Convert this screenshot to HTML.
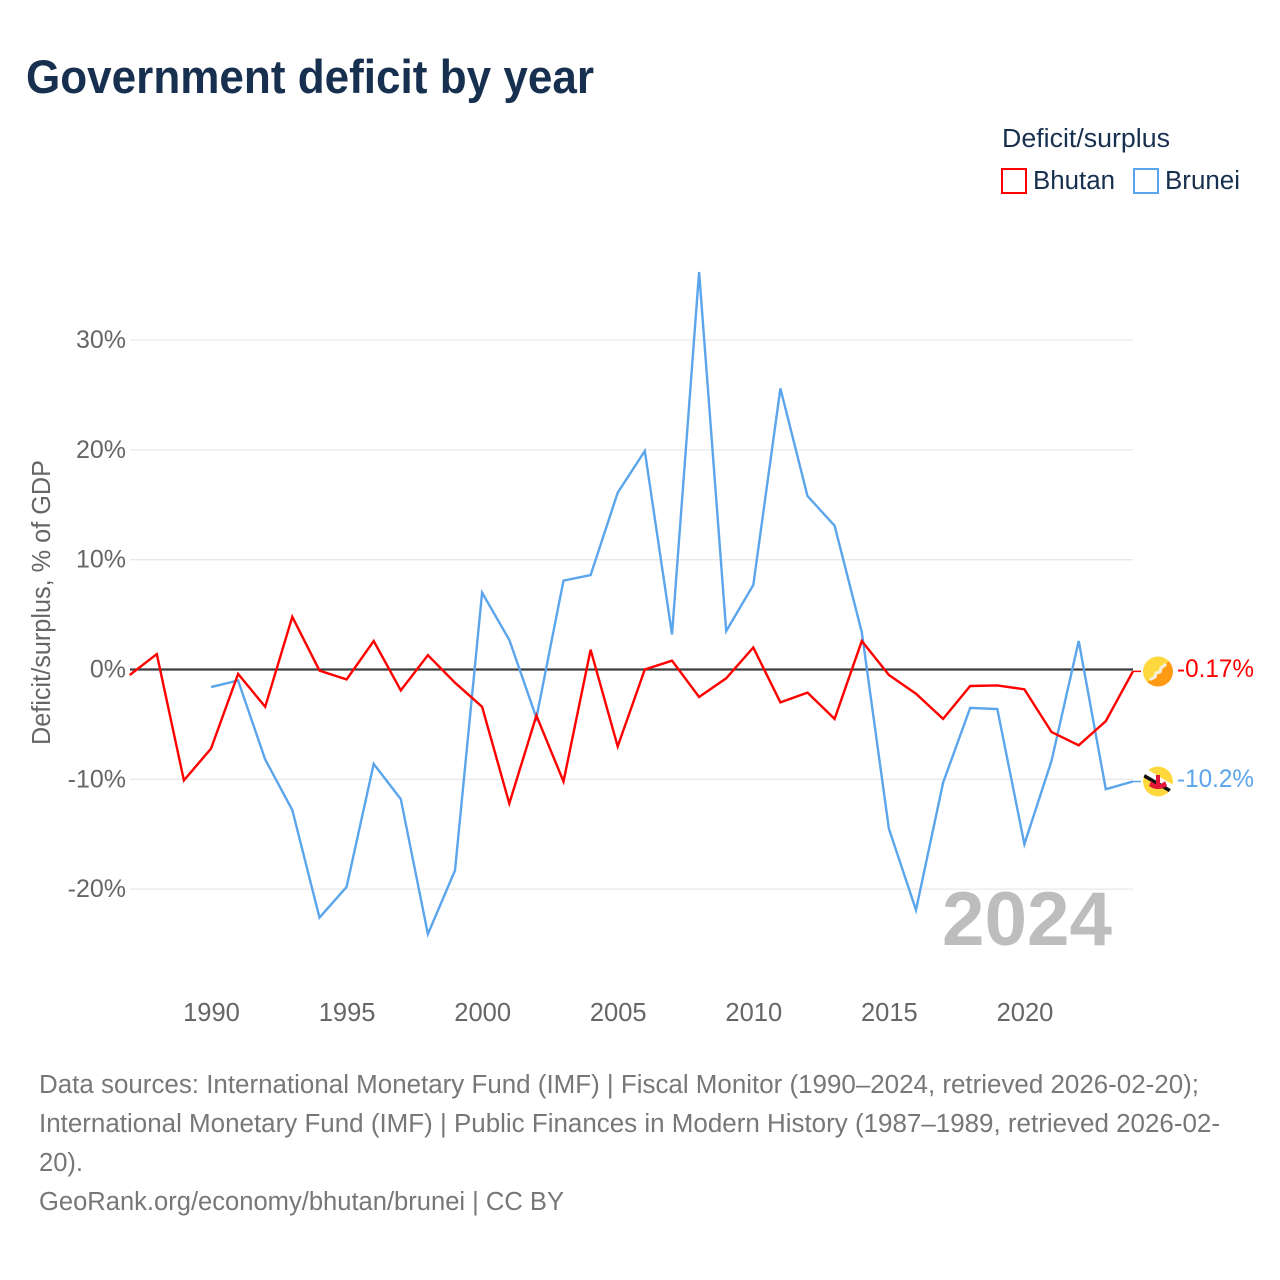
<!DOCTYPE html>
<html lang="en">
<head>
<meta charset="utf-8">
<title>Government deficit by year</title>
<style>
html,body{margin:0;padding:0;background:#fff;width:1280px;height:1280px;overflow:hidden}
svg{display:block;font-family:"Liberation Sans",sans-serif}
</style>
</head>
<body>
<svg id="chart" xmlns="http://www.w3.org/2000/svg" width="1280" height="1280" viewBox="0 0 1280 1280">
  <rect x="0" y="0" width="1280" height="1280" fill="#ffffff"/>
  <text x="26" y="93" font-size="47" font-weight="700" fill="#18304f" textLength="568" lengthAdjust="spacingAndGlyphs">Government deficit by year</text>

  <g>
    <text x="1002" y="147" font-size="25.5" fill="#18304f" textLength="168" lengthAdjust="spacingAndGlyphs">Deficit/surplus</text>
    <rect x="1002" y="169" width="24" height="24" fill="#fff" stroke="#ff0000" stroke-width="2"/>
    <text x="1033" y="189" font-size="25.5" fill="#18304f" textLength="82" lengthAdjust="spacingAndGlyphs">Bhutan</text>
    <rect x="1134" y="169" width="24" height="24" fill="#fff" stroke="#5ba5ec" stroke-width="2"/>
    <text x="1165" y="189" font-size="25.5" fill="#18304f" textLength="75" lengthAdjust="spacingAndGlyphs">Brunei</text>
  </g>

  <text transform="translate(50,745) rotate(-90)" x="0" y="0" font-size="25.5" fill="#666666" textLength="285" lengthAdjust="spacingAndGlyphs">Deficit/surplus, % of GDP</text>

  <g id="grid"></g>
  <g id="yticks"></g>
  <g id="xticks"></g>

  <text x="942" y="945" font-size="76" font-weight="700" fill="#bdbdbd" textLength="170" lengthAdjust="spacingAndGlyphs">2024</text>

  <g id="series"></g>

  <defs>
    <linearGradient id="btGrad" x1="0" y1="0" x2="1" y2="1">
      <stop offset="0.5" stop-color="#ffd83d"/>
      <stop offset="0.5" stop-color="#ff9a14"/>
    </linearGradient>
    <clipPath id="brClip"><circle cx="1158" cy="781.5" r="15"/></clipPath>
  </defs>

  <g id="flags">
    <g>
      <circle cx="1158" cy="671.5" r="15" fill="url(#btGrad)"/>
      <path d="M1151 679 L1155 677 L1156 673 L1160 672 L1161 668 L1165 665" fill="none" stroke="#f5efdc" stroke-width="3.2" stroke-linecap="round" stroke-linejoin="round"/>
    </g>
    <g clip-path="url(#brClip)">
      <circle cx="1158" cy="781.5" r="15" fill="#ffd83d"/>
      <path d="M1142 771 L1174 790" stroke="#ffffff" stroke-width="8"/>
      <path d="M1142 774.5 L1174 793" stroke="#111111" stroke-width="3.6"/>
      <path d="M1151 781 Q1158 788 1165 781 L1167 786 Q1158 792 1149 786 Z M1156 775 h4 v14 h-4 Z" fill="#e3163a"/>
    </g>
  </g>

  <text id="label-bhutan" x="1177" y="677" font-size="25" fill="#ff0000" textLength="77" lengthAdjust="spacingAndGlyphs">-0.17%</text>
  <text id="label-brunei" x="1177" y="787" font-size="25" fill="#5ba5ec" textLength="77" lengthAdjust="spacingAndGlyphs">-10.2%</text>

  <g font-size="25.5" fill="#777777">
    <text x="39" y="1093" textLength="1160" lengthAdjust="spacingAndGlyphs">Data sources: International Monetary Fund (IMF) | Fiscal Monitor (1990–2024, retrieved 2026-02-20);</text>
    <text x="39" y="1132" textLength="1181" lengthAdjust="spacingAndGlyphs">International Monetary Fund (IMF) | Public Finances in Modern History (1987–1989, retrieved 2026-02-</text>
    <text x="39" y="1171" textLength="44" lengthAdjust="spacingAndGlyphs">20).</text>
    <text x="39" y="1210" textLength="525" lengthAdjust="spacingAndGlyphs">GeoRank.org/economy/bhutan/brunei | CC BY</text>
  </g>
</svg>
<script>
const years = [1987,1988,1989,1990,1991,1992,1993,1994,1995,1996,1997,1998,1999,2000,2001,2002,2003,2004,2005,2006,2007,2008,2009,2010,2011,2012,2013,2014,2015,2016,2017,2018,2019,2020,2021,2022,2023,2024];
const bhutanValues = [-0.5,1.4,-10.1,-7.2,-0.4,-3.4,4.8,-0.1,-0.9,2.6,-1.9,1.3,-1.2,-3.4,-12.2,-4.2,-10.2,1.8,-7.0,0,0.8,-2.5,-0.8,2.0,-3.0,-2.1,-4.5,2.6,-0.5,-2.2,-4.5,-1.5,-1.45,-1.8,-5.7,-6.9,-4.7,-0.17];
const bruneiValues = [null,null,null,-1.6,-1.0,-8.2,-12.8,-22.6,-19.8,-8.6,-11.8,-24.1,-18.3,7.0,2.7,-4.4,8.1,8.6,16.1,19.9,3.2,36.2,3.5,7.7,25.6,15.8,13.1,3.4,-14.5,-21.9,-10.3,-3.5,-3.6,-15.9,-8.3,2.6,-10.9,-10.2];
const yTickValues = [-20,-10,0,10,20,30];
const yTickLabels = ["-20%","-10%","0%","10%","20%","30%"];
const xTickValues = [1990,1995,2000,2005,2010,2015,2020];
const xTickLabels = ["1990","1995","2000","2005","2010","2015","2020"];

const NS = "http://www.w3.org/2000/svg";
function xScale(year){ return 211 + (year - 1990) * 27.115; }
function yScale(v){ return 669.5 - v * 10.98; }
function make(tag, attrs, parent){
  const el = document.createElementNS(NS, tag);
  for (const k in attrs) el.setAttribute(k, attrs[k]);
  parent.appendChild(el);
  return el;
}

const grid = document.getElementById('grid');
const yticks = document.getElementById('yticks');
const xticks = document.getElementById('xticks');
const series = document.getElementById('series');

yTickValues.forEach(function(v, i){
  if (v !== 0) {
    const line = make('line', {x1:130, x2:1133, y1:yScale(v), y2:yScale(v), stroke:'#e9e9e9', 'stroke-width':1.3}, grid);
    
    
  }
  const t = make('text', {x:126, y:yScale(v)+8, 'font-size':25, fill:'#666666', 'text-anchor':'end'}, yticks);
  t.textContent = yTickLabels[i];
  
  
});

xTickValues.forEach(function(v, i){
  const t = make('text', {x:xScale(v)+0.5, y:1021, 'font-size':25.5, fill:'#666666', 'text-anchor':'middle'}, xticks);
  t.textContent = xTickLabels[i];
  
  
});

const zero = make('line', {x1:130, x2:1133, y1:yScale(0), y2:yScale(0), stroke:'#3d3d3d', 'stroke-width':2.2}, series);



function buildPath(vals){
  const pts = [];
  vals.forEach(function(v, i){
    if (v !== null) pts.push(xScale(years[i]).toFixed(1) + ',' + yScale(v).toFixed(1));
  });
  return pts.join(' ');
}

const brunei = make('polyline', {points:buildPath(bruneiValues), fill:'none', stroke:'#5ba5ec', 'stroke-width':2.4, 'stroke-linejoin':'miter'}, series);



const bhutan = make('polyline', {points:buildPath(bhutanValues), fill:'none', stroke:'#ff0000', 'stroke-width':2.4, 'stroke-linejoin':'miter'}, series);



const lastX = xScale(years[years.length-1]);
const bhLast = bhutanValues[bhutanValues.length-1];
const brLast = bruneiValues[bruneiValues.length-1];
const conn1 = make('line', {x1:lastX, x2:1141, y1:yScale(bhLast), y2:yScale(bhLast), stroke:'#ff0000', 'stroke-width':1.5}, series);


const conn2 = make('line', {x1:lastX, x2:1141, y1:yScale(brLast), y2:yScale(brLast), stroke:'#5ba5ec', 'stroke-width':1.5}, series);


</script>
</body>
</html>
